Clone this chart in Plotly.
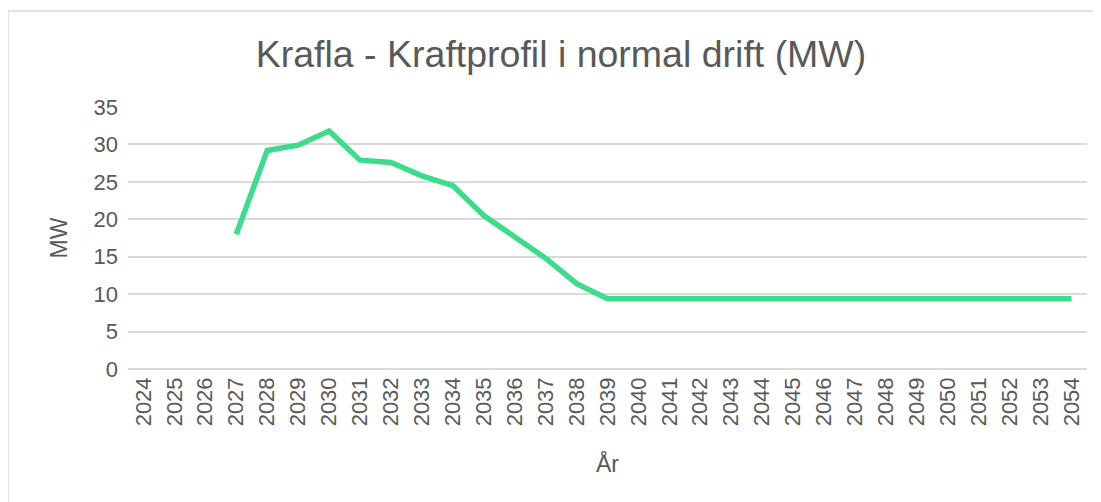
import plotly.graph_objects as go

years = [str(y) for y in range(2024, 2055)]
mw = [None, None, None, 18.0, 29.2, 29.9, 31.8, 27.9, 27.6, 25.8, 24.5,
      20.5, 17.7, 14.8, 11.4, 9.4] + [9.4] * 15
y_ticks = [0, 5, 10, 15, 20, 25, 30, 35]

# the page body has an 8px margin, so the figure starts at (8, 8)
W, H = 1085, 494
L, R, T, B = 120, 6, 99, 133
pw, ph = W - L - R, H - T - B

fig = go.Figure()
fig.add_trace(go.Scatter(
    x=years, y=mw, mode="lines",
    line=dict(color="#3ddc8c", width=5.5),
    connectgaps=False, hoverinfo="x+y",
))

txt = "#595959"
fig.update_layout(
    width=W, height=H,
    margin=dict(l=L, r=R, t=T, b=B, autoexpand=False),
    paper_bgcolor="white", plot_bgcolor="white",
    font=dict(family="Liberation Sans, Arial, sans-serif", color=txt, size=22),
    title=dict(text="Krafla - Kraftprofil i normal drift (MW)",
               x=(561 - 8) / W, xanchor="center", y=1 - 46 / H, yanchor="middle",
               font=dict(size=37.5, color=txt)),
    showlegend=False,
    xaxis=dict(type="category", categoryorder="array", categoryarray=years,
               range=[-0.5, len(years) - 0.5],
               tickangle=-90, showgrid=False, showline=False, ticks="",
               ticklabelstandoff=3,
               tickfont=dict(size=22, color=txt),
               title=dict(text="År", font=dict(size=23, color=txt), standoff=30)),
    yaxis=dict(range=[0, 35], tickvals=y_ticks, showgrid=True,
               gridcolor="#d9d9d9", gridwidth=1.5, zeroline=True,
               zerolinecolor="#d9d9d9", zerolinewidth=1.5, showline=False,
               ticks="", ticklabelstandoff=9,
               tickfont=dict(size=22, color=txt),
               title=dict(text="MW", font=dict(size=23, color=txt), standoff=19)),
    shapes=[dict(type="rect", xref="paper", yref="paper",
                 x0=(0 - L) / pw, x1=(W + 20 - L) / pw,
                 y0=-(B + 20) / ph, y1=(H - B - 3) / ph,
                 line=dict(color="#d9d9d9", width=1.5), layer="below")],
)

fig.write_html("out.html")
